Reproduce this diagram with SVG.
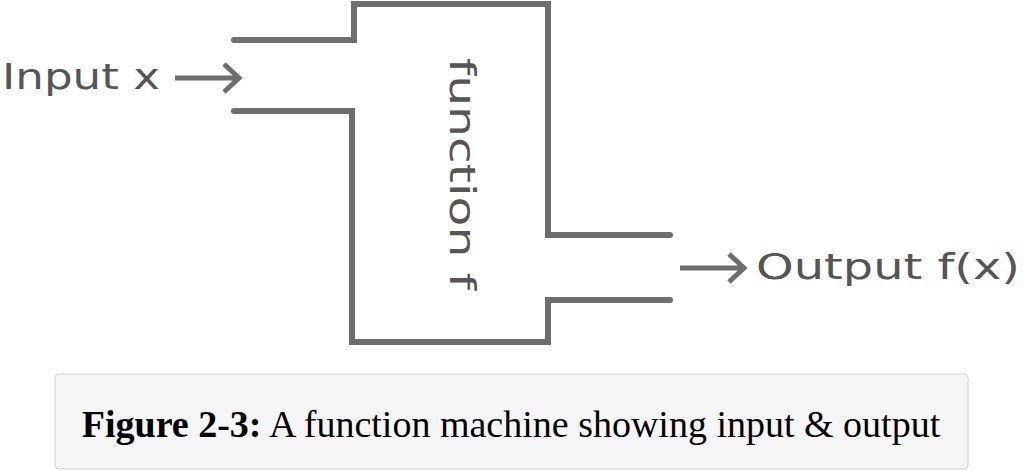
<svg xmlns="http://www.w3.org/2000/svg" width="1024" height="471" viewBox="0 0 1024 471">
<style>
.w{fill:none;stroke:#6e6e6e;stroke-width:6;stroke-linecap:round;stroke-linejoin:miter}
.t{font-family:"DejaVu Sans",sans-serif;fill:#555;font-size:36px}
.a{fill:none;stroke:#6e6e6e;stroke-width:5}
</style>
<g id="machine">
<path class="w" d="M234,40 H354 V4 H548 V235 H670"/>
<path class="w" d="M234,111 H352 V342 H548 V300 H670"/>
<text class="t" transform="translate(450,58) rotate(90)" textLength="232" lengthAdjust="spacingAndGlyphs">function f</text>
</g>
<g id="input">
<text class="t" x="2" y="89" textLength="158" lengthAdjust="spacingAndGlyphs">Input x</text>
</g>
<g id="output">
<text class="t" x="756" y="279" textLength="264" lengthAdjust="spacingAndGlyphs">Output f(x)</text>
</g>
<g id="connectors">
<path class="a" d="M175,78 H238 M224,64 L239,78 L224,92"/>
<path class="a" d="M680,268 H743 M729,254 L744,268 L729,282"/>
</g>
<g id="caption">
<rect x="55" y="374" width="913" height="95" rx="4" fill="#f5f5f5" stroke="#cfcfcf"/>
<text x="511" y="437" text-anchor="middle" font-family="Liberation Serif,serif" font-size="38"><tspan font-weight="bold">Figure 2-3:</tspan> A function machine showing input &amp; output</text>
</g>
</svg>
